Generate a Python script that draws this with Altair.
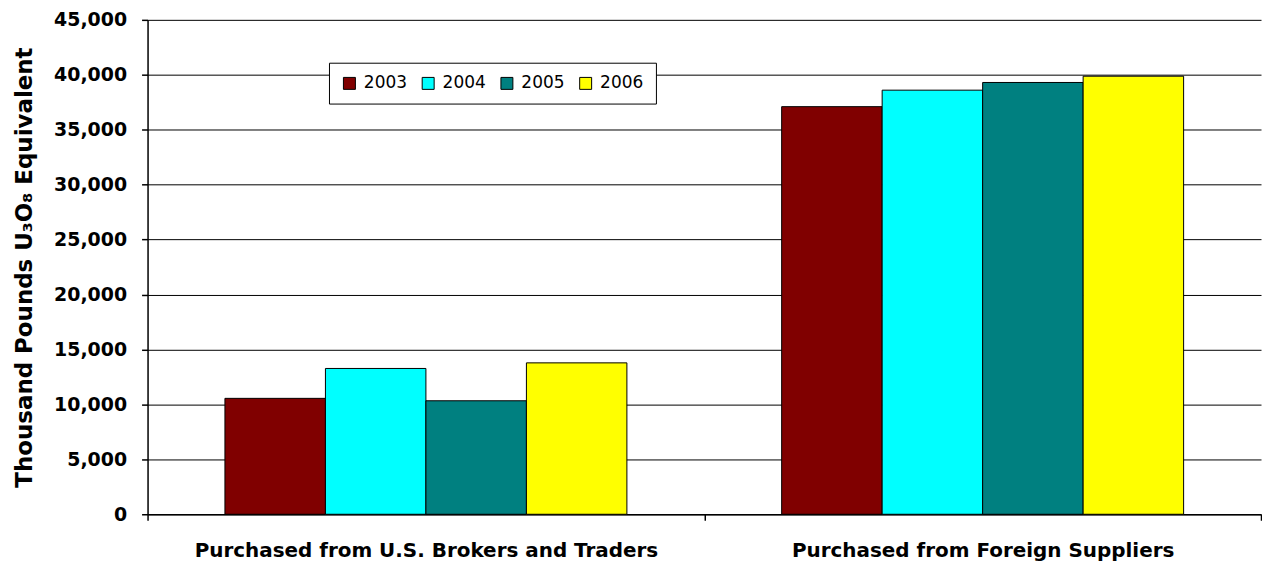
import altair as alt
import pandas as pd

categories = ["Purchased from U.S. Brokers and Traders", "Purchased from Foreign Suppliers"]
years = ["2003", "2004", "2005", "2006"]
values_brokers = [10550, 13270, 10330, 13780]
values_foreign = [37100, 38600, 39300, 39870]
colors = ["#800000", "#00FFFF", "#008080", "#FFFF00"]

rows = []
for cat, vals in zip(categories, [values_brokers, values_foreign]):
    for y, v in zip(years, vals):
        rows.append({"category": cat, "year": y, "value": v})
df = pd.DataFrame(rows)

FONT = "DejaVu Sans"

chart = alt.Chart(df).mark_bar(stroke="black", strokeWidth=1).encode(
    x=alt.X("category:N", sort=categories,
            scale=alt.Scale(paddingInner=0, paddingOuter=0),
            axis=alt.Axis(title=None, labelAngle=0, tickBand="extent",
                          labelFont=FONT, labelFontWeight="bold", labelFontSize=20,
                          labelColor="black", labelPadding=20, tickSize=6,
                          tickColor="black", domainColor="black", labelLimit=700)),
    xOffset=alt.XOffset("year:N", sort=years,
                        scale=alt.Scale(paddingInner=0, paddingOuter=0.77)),
    y=alt.Y("value:Q",
            scale=alt.Scale(domain=[0, 45000]),
            axis=alt.Axis(title="Thousand Pounds U\u2083O\u2088 Equivalent",
                          values=list(range(0, 45001, 5000)), format=",d",
                          labelFont=FONT, labelFontWeight="bold", labelFontSize=19,
                          labelColor="black", labelPadding=15, tickSize=6,
                          tickColor="black", domainColor="black",
                          titleFont=FONT, titleFontWeight="bold", titleFontSize=23,
                          titleColor="black", titlePadding=17,
                          grid=True, gridColor="black", gridWidth=1)),
    color=alt.Color("year:N", sort=years,
                    scale=alt.Scale(domain=years, range=colors),
                    legend=alt.Legend(title=None, orient="none", direction="horizontal",
                                      legendX=182, legendY=43,
                                      symbolType="square", symbolSize=144,
                                      symbolStrokeColor="black", symbolStrokeWidth=1,
                                      labelFont=FONT, labelFontSize=17, labelColor="black",
                                      labelOffset=6, columnPadding=12,
                                      padding=12, strokeColor="black", fillColor="white")),
).properties(
    width=1117, height=496, padding={"left": 5, "top": 2, "right": 0, "bottom": 0}
).configure_view(stroke=None).configure_axis(domainWidth=1.5, tickWidth=1.5)

chart.save("out.html", embed_options={"renderer": "svg", "actions": False})
